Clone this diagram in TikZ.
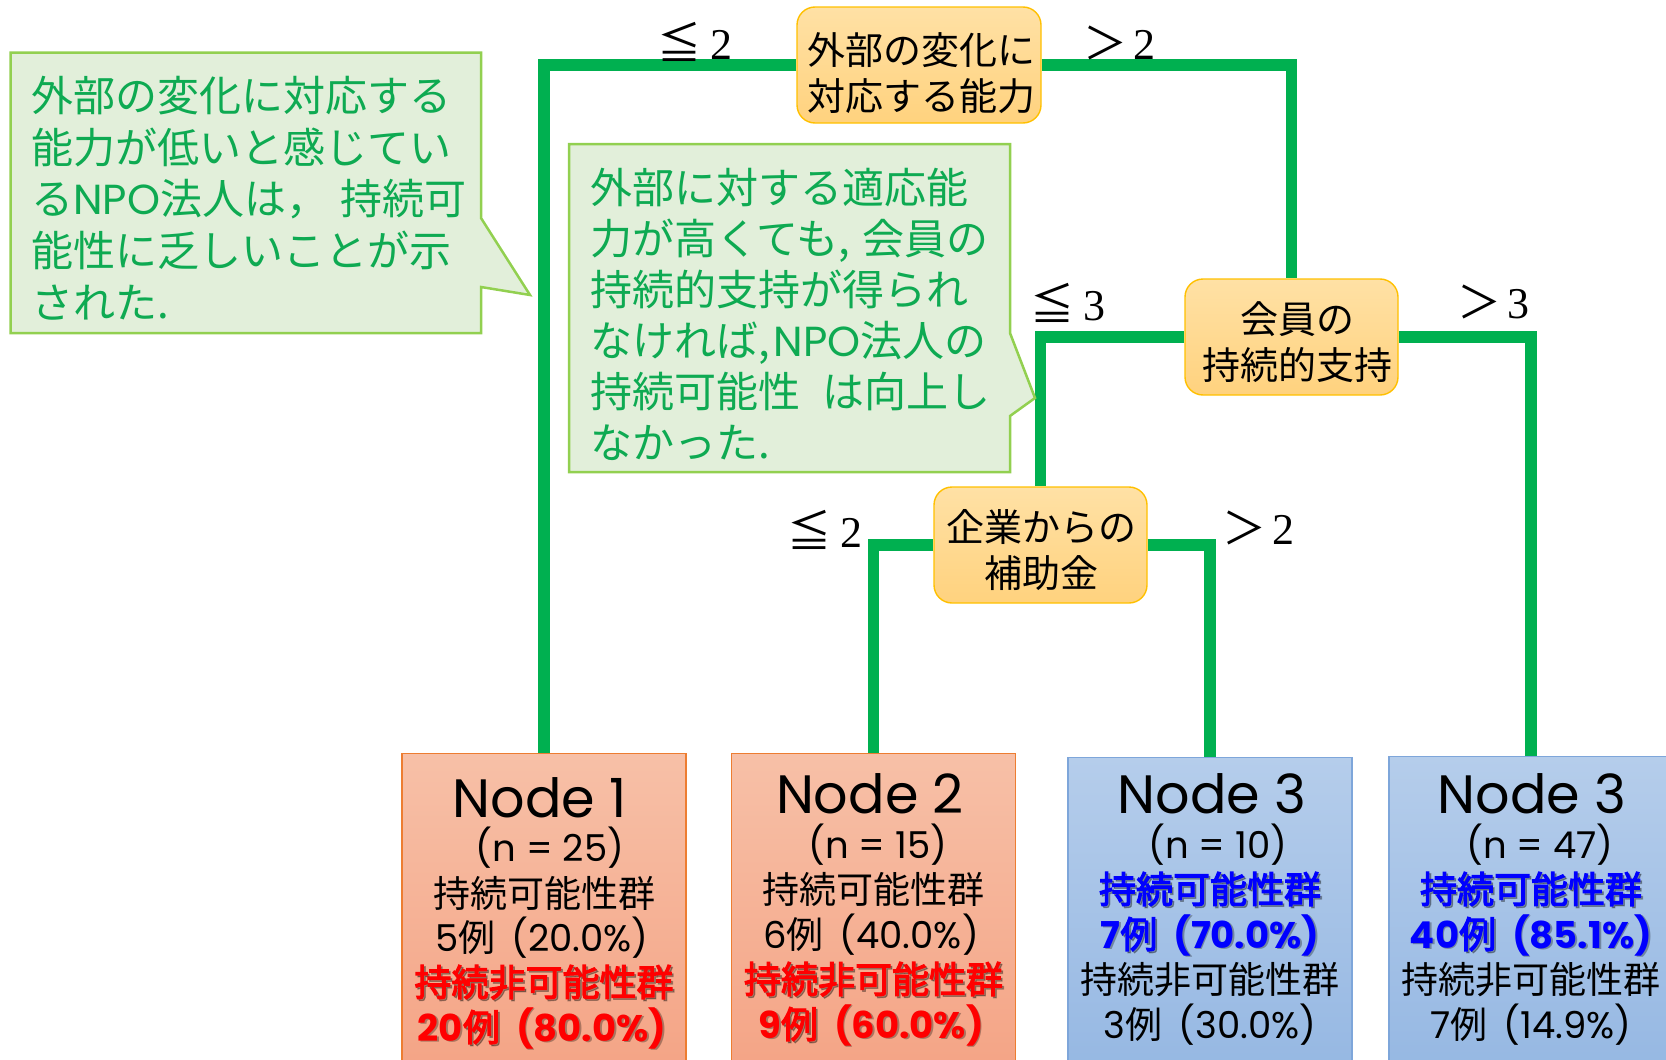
\documentclass[tikz,border=0pt]{standalone}
\usepackage{fontspec}
\setmainfont{Noto Sans CJK JP}
\newfontfamily\jpbold[FakeBold=3]{Noto Sans CJK JP}
\newfontfamily\latfont{Poppins}
\newfontfamily\numserif{Liberation Serif}
\usetikzlibrary{calc,backgrounds}

\definecolor{treegreen}{HTML}{00B050}
\definecolor{notefill}{HTML}{E2EFDA}
\definecolor{noteedge}{HTML}{92D050}
\definecolor{notetext}{HTML}{0EAA52}
\definecolor{qtop}{HTML}{FFE1A5}
\definecolor{qbot}{HTML}{FFD27E}
\definecolor{qedge}{HTML}{FFC000}
\definecolor{rtop}{HTML}{F7C0A7}
\definecolor{rbot}{HTML}{F4A283}
\definecolor{redge}{HTML}{ED7D31}
\definecolor{btop}{HTML}{B5CDEB}
\definecolor{bbot}{HTML}{93B6E2}
\definecolor{bedge}{HTML}{7EA6DA}
\definecolor{hired}{HTML}{FF0000}
\definecolor{hiblue}{HTML}{0000FF}

% split conditions on the branches
\newcommand\splitle[1]{≦\hspace{9pt}{\numserif #1}}
\newcommand\splitgt[1]{＞\hspace{6pt}{\numserif #1}}
% gap between the count and the percentage
\newcommand\gapp{\hspace{16pt}}

% highlighted leaf line with a soft drop shadow
\newcommand\hiline[4]{%
  \node[leafjp, text=black, opacity=.30] (#1s) at ($#2+(1.8,1.8)$) {#4};
  \node[leafjp, text=#3] (#1) at #2 {#4};}

\begin{document}
\begin{tikzpicture}[x=1pt,y=-1pt,
  edge/.style={draw=treegreen, line width=11.5pt, line join=miter},
  question/.style={draw=qedge, line width=1.4pt, rounded corners=18pt,
    top color=qtop, bottom color=qbot, inner sep=0pt},
  qtext/.style={inner sep=0pt, anchor=base, font=\fontsize{38}{46}\selectfont},
  leafred/.style={draw=redge, line width=1.3pt, top color=rtop, bottom color=rbot,
    minimum width=284pt, minimum height=340pt, anchor=north, inner sep=0pt},
  leafblue/.style={draw=bedge, line width=1.3pt, top color=btop, bottom color=bbot,
    minimum width=284pt, minimum height=340pt, anchor=north, inner sep=0pt},
  leaftitle/.style={inner sep=0pt, anchor=base, font=\latfont\fontsize{54}{60}\selectfont},
  leafcount/.style={inner sep=0pt, anchor=base, font=\latfont\fontsize{37}{44}\selectfont},
  leafjp/.style={inner sep=0pt, anchor=base, font=\fontsize{37}{44}\selectfont},
  cond/.style={inner sep=0pt, font=\fontsize{44}{50}\selectfont},
  note/.style={draw=noteedge, line width=2.5pt, fill=notefill, line join=miter},
  notetxt/.style={inner sep=0pt, anchor=base west, text=notetext,
    font=\fontsize{42}{50}\selectfont},
]
\useasboundingbox (0,0) rectangle (1666,1060);

% ---- decision nodes ----
\node[question, minimum width=244pt, minimum height=116pt] (root) at (919,65) {};
\node[qtext] (rootl1) at (921,64) {外部の変化に};
\node[qtext] (rootl2) at (921,110) {対応する能力};

\node[question, minimum width=213pt, minimum height=116pt] (d2) at (1291.5,337) {};
\node[qtext] (d2l1) at (1297,333) {会員の};
\node[qtext] (d2l2) at (1297,379) {持続的支持};

\node[question, minimum width=213pt, minimum height=116pt] (d3) at (1040.5,545) {};
\node[qtext] (d3l1) at (1041,541) {企業からの};
\node[qtext] (d3l2) at (1041,587) {補助金};

% ---- terminal nodes ----
\node[leafred]  (n1) at (544,753) {};
\node[leafred]  (n2) at (873.5,753) {};
\node[leafblue] (n3) at (1210,757) {};
\node[leafblue] (n4) at (1531,756) {};

% ---- branches ----
\begin{scope}[on background layer]
  \draw[edge] (root.west) -| (n1.north);
  \draw[edge] (root.east) -| (d2.north);
  \draw[edge] (d2.west) -| (d3.north);
  \draw[edge] (d2.east) -| (n4.north);
  \draw[edge] (d3.west) -| (n2.north);
  \draw[edge] (d3.east) -| (n3.north);
\end{scope}

% ---- split conditions ----
\node[cond, anchor=base east] (c1) at ($(root.west)+(-64,-6)$) {\splitle{2}};
\node[cond, anchor=base west] (c2) at ($(root.east)+(42,-6)$) {\splitgt{2}};
\node[cond, anchor=base east] (c3) at ($(d2.west)+(-79,-17)$) {\splitle{3}};
\node[cond, anchor=base west] (c4) at ($(d2.east)+(59,-19)$) {\splitgt{3}};
\node[cond, anchor=base east] (c5) at ($(d3.west)+(-71,2)$) {\splitle{2}};
\node[cond, anchor=base west] (c6) at ($(d3.east)+(75,-1)$) {\splitgt{2}};

% ---- terminal node contents ----
\node[leaftitle] (n1t) at (540,817) {Node 1};
\node[leafcount] (n1n) at (550,861) {(n = 25)};
\node[leafjp] (n1a) at (544,907) {持続可能性群};
\node[leafjp] (n1b) at (542,951) {{\latfont 5}例\gapp{\latfont (20.0\%)}};
\hiline{n1c}{(544,996)}{hired}{\jpbold 持続非可能性群}
\hiline{n1d}{(542,1041)}{hired}{{\latfont\bfseries 20}{\jpbold 例}\gapp{\latfont\bfseries (80.0\%)}}

\node[leaftitle] (n2t) at (870,813) {Node 2};
\node[leafcount] (n2n) at (878,858) {(n = 15)};
\node[leafjp] (n2a) at (873.5,903) {持続可能性群};
\node[leafjp] (n2b) at (871,948) {{\latfont 6}例\gapp{\latfont (40.0\%)}};
\hiline{n2c}{(873.5,993)}{hired}{\jpbold 持続非可能性群}
\hiline{n2d}{(871,1038)}{hired}{{\latfont\bfseries 9}{\jpbold 例}\gapp{\latfont\bfseries (60.0\%)}}

\node[leaftitle] (n3t) at (1212,813) {Node 3};
\node[leafcount] (n3n) at (1218,858) {(n = 10)};
\hiline{n3a}{(1210,903)}{hiblue}{\jpbold 持続可能性群}
\hiline{n3b}{(1210,948)}{hiblue}{{\latfont\bfseries 7}{\jpbold 例}\gapp{\latfont\bfseries (70.0\%)}}
\node[leafjp] (n3c) at (1210,993) {持続非可能性群};
\node[leafjp] (n3d) at (1210,1038) {{\latfont 3}例\gapp{\latfont (30.0\%)}};

\node[leaftitle] (n4t) at (1532,813) {Node 3};
\node[leafcount] (n4n) at (1540,858) {(n = 47)};
\hiline{n4a}{(1531,903)}{hiblue}{\jpbold 持続可能性群}
\hiline{n4b}{(1531,948)}{hiblue}{{\latfont\bfseries 40}{\jpbold 例}\gapp{\latfont\bfseries (85.1\%)}}
\node[leafjp] (n4c) at (1531,993) {持続非可能性群};
\node[leafjp] (n4d) at (1531,1038) {{\latfont 7}例\gapp{\latfont (14.9\%)}};

% ---- comment callouts ----
\draw[note] (10.7,52.7) -- (481,52.7) -- (481,218) -- (530,295) -- (481,287)
  -- (481,333) -- (10.7,333) -- cycle;
\node[notetxt] (a1) at (31,111) {外部の変化に対応する};
\node[notetxt] (a2) at (31,163) {能力が低いと感じてい};
\node[notetxt] (a3) at (31,214) {る{\latfont NPO}法人は，\hspace{12pt}持続可};
\node[notetxt] (a4) at (31,266) {能性に乏しいことが示};
\node[notetxt] (a5) at (31,318) {された.};

\draw[note] (569,144) -- (1010,144) -- (1010,333) -- (1035,398) -- (1010,416)
  -- (1010,472) -- (569,472) -- cycle;
\node[notetxt] (b1) at (590,203) {外部に対する適応能};
\node[notetxt] (b2) at (590,254) {力が高くても,\hspace{12pt}会員の};
\node[notetxt] (b3) at (590,305) {持続的支持が得られ};
\node[notetxt] (b4) at (590,356) {なければ,\hspace{4pt}{\latfont NPO}法人の};
\node[notetxt] (b5) at (590,407) {持続可能性\hspace{22pt}は向上し};
\node[notetxt] (b6) at (590,458) {なかった.};
\end{tikzpicture}
\end{document}
